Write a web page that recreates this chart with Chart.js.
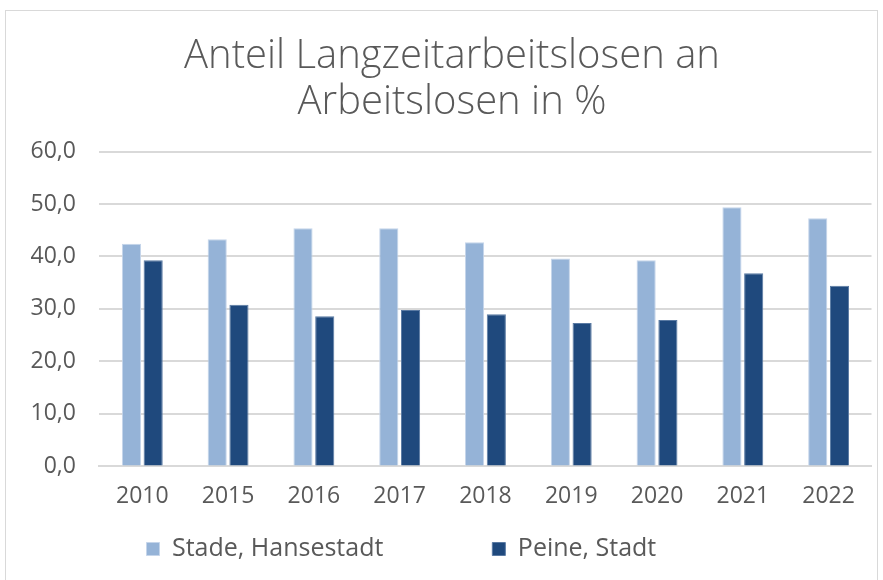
<!DOCTYPE html>
<html lang="de">
<head>
    <meta charset="UTF-8">
    <title>Anteil Langzeitarbeitslosen an Arbeitslosen in %</title>
    <script src="https://cdn.jsdelivr.net/npm/chart.js@4.4.0/dist/chart.umd.min.js"></script>
    <style>
        body { margin: 0; background: #fff; }
        #box { position: absolute; left: 5px; top: 10px; width: 871px; height: 580px; border: 1.5px solid #d9d9d9; border-bottom: none; }
        #box canvas { display: block; }
    </style>
</head>
<body>
    <div id="box"><canvas id="chart" width="871" height="570"></canvas></div>
    <script>
        const years = ['2010', '2015', '2016', '2017', '2018', '2019', '2020', '2021', '2022'];
        const stade = [42.4, 43.3, 45.4, 45.4, 42.7, 39.6, 39.3, 49.4, 47.3];
        const peine = [39.3, 30.8, 28.6, 29.8, 29.0, 27.3, 27.9, 36.8, 34.4];
        const titleLines = ['Anteil Langzeitarbeitslosen an', 'Arbeitslosen in %'];

        const grey = '#595959';
        const fontFam = '"Open Sans", "Liberation Sans", sans-serif';
        const legendGap = 109;

        // legend sits left of centre in the original, title a bit right of it
        const nudgeBoxes = {
            id: 'nudgeBoxes',
            afterLayout(chart) {
                const lg = chart.legend;
                lg.left = 140.5 - legendGap;
                lg.right = chart.width;
                lg.top = 525.5 - legendGap;
                lg.bottom = chart.height;
                const tb = chart.titleBlock;
                tb.left += 12.75;
                tb.right += 12.75;
            }
        };

        new Chart(document.getElementById('chart'), {
            type: 'bar',
            data: {
                labels: years,
                datasets: [
                    { label: 'Stade, Hansestadt', data: stade, backgroundColor: '#95b3d7', borderColor: '#c5d5ea', borderWidth: 1, categoryPercentage: 0.507, barPercentage: 0.88 },
                    { label: 'Peine, Stadt', data: peine, backgroundColor: '#1f497d', borderColor: '#5a7aa3', borderWidth: 1, categoryPercentage: 0.507, barPercentage: 0.88 }
                ]
            },
            options: {
                responsive: false,
                animation: false,
                layout: { padding: { left: 1, right: 5.5, top: 14, bottom: 13 } },
                plugins: {
                    title: {
                        display: true,
                        text: titleLines,
                        color: grey,
                        font: { family: fontFam, size: 40, weight: 300, lineHeight: '46px' },
                        padding: { top: 8.5, bottom: 26 }
                    },
                    legend: {
                        position: 'bottom',
                        align: 'start',
                        maxHeight: 50,
                        labels: {
                            color: grey,
                            font: { family: fontFam, size: 25 },
                            boxWidth: 13,
                            boxHeight: 13,
                            padding: legendGap
                        }
                    },
                    tooltip: { enabled: false }
                },
                scales: {
                    x: {
                        grid: { display: false },
                        border: { color: '#d9d9d9', width: 2 },
                        ticks: { color: grey, font: { family: fontFam, size: 23 }, padding: 8 }
                    },
                    y: {
                        min: 0,
                        max: 60,
                        ticks: {
                            stepSize: 10,
                            color: grey,
                            font: { family: fontFam, size: 23 },
                            padding: 23.5,
                            callback: v => v.toFixed(1).replace('.', ',')
                        },
                        grid: { color: '#d9d9d9', lineWidth: 2, drawTicks: false },
                        border: { display: false }
                    }
                }
            },
            plugins: [nudgeBoxes]
        });
    </script>
</body>
</html>
